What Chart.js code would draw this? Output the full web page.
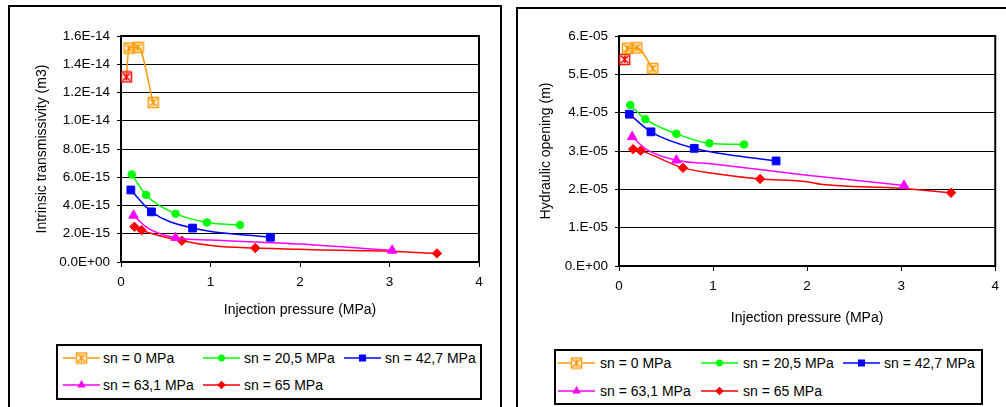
<!DOCTYPE html>
<html>
<head>
<meta charset="utf-8">
<script src="https://cdn.jsdelivr.net/npm/chart.js@4.4.0/dist/chart.umd.min.js"></script>
<style>
body { margin: 0; background: #fff; width: 1006px; height: 407px; overflow: hidden; position: relative; font-family: 'Liberation Sans', Arial, sans-serif; }
.frame { position: absolute; border: 2px solid #000; box-sizing: border-box; }
canvas.chart { position: absolute; }
.legend { position: absolute; border: 2px solid #000; box-sizing: border-box; background: #fff; }
.legend canvas { position: absolute; }
.legend span { position: absolute; font-size: 14px; line-height: 16px; white-space: nowrap; color: #000; }
</style>
</head>
<body>
<div class="frame" style="left:8px;top:5px;width:494px;height:430px"></div>
<div class="frame" style="left:516px;top:7px;width:520px;height:430px"></div>
<canvas id="transChart" class="chart" width="500" height="335" style="left:0;top:0"></canvas>
<canvas id="openChart" class="chart" width="506" height="340" style="left:500px;top:0"></canvas>
<div id="legendLeft" class="legend" style="left:56px;top:344px;width:426px;height:56px"></div>
<div id="legendRight" class="legend" style="left:554px;top:349px;width:429px;height:56px"></div>
<script>
// axis ticks
const xTickValues = [0, 1, 2, 3, 4];
const xTickLabels = ['0', '1', '2', '3', '4'];
const transTickValues = [0, 2e-15, 4e-15, 6e-15, 8e-15, 1e-14, 1.2e-14, 1.4e-14, 1.6e-14];
const transTickLabels = ['0.0E+00', '2.0E-15', '4.0E-15', '6.0E-15', '8.0E-15', '1.0E-14', '1.2E-14', '1.4E-14', '1.6E-14'];
const openTickValues = [0, 1e-5, 2e-5, 3e-5, 4e-5, 5e-5, 6e-5];
const openTickLabels = ['0.E+00', '1.E-05', '2.E-05', '3.E-05', '4.E-05', '5.E-05', '6.E-05'];

const seriesNames = ['sn = 0 MPa', 'sn = 20,5 MPa', 'sn = 42,7 MPa', 'sn = 63,1 MPa', 'sn = 65 MPa'];

// injection pressure (MPa) for each series; mark = 1 where a marker is drawn
const p0 = [0.06, 0.09, 0.19, 0.36];
const p20 = [0.12, 0.28, 0.61, 0.96, 1.33];
const p42 = [0.11, 0.34, 0.80, 1.67];
const p63 = [0.14, 0.30, 0.61, 1.00, 2.00, 3.03];
const p65 = [0.15, 0.23, 0.68, 1.05, 1.50, 2.00, 2.15, 3.00, 3.53];
const mark0 = [1, 1, 1, 1];
const mark20 = [1, 1, 1, 1, 1];
const mark42 = [1, 1, 1, 1];
const mark63 = [1, 0, 1, 0, 0, 1];
const mark65 = [1, 1, 1, 0, 1, 0, 0, 0, 1];

// intrinsic transmissivity (m3)
const trans0 = [1.31e-14, 1.515e-14, 1.52e-14, 1.13e-14];
const trans20 = [6.2e-15, 4.75e-15, 3.42e-15, 2.8e-15, 2.62e-15];
const trans42 = [5.1e-15, 3.55e-15, 2.4e-15, 1.75e-15];
const trans63 = [3.3e-15, 2.4e-15, 1.72e-15, 1.56e-15, 1.27e-15, 0.82e-15];
const trans65 = [2.5e-15, 2.25e-15, 1.5e-15, 1.13e-15, 0.99e-15, 0.9e-15, 0.86e-15, 0.76e-15, 0.61e-15];

// hydraulic opening (m)
const open0 = [5.39e-5, 5.68e-5, 5.69e-5, 5.15e-5];
const open20 = [4.2e-5, 3.83e-5, 3.45e-5, 3.2e-5, 3.17e-5];
const open42 = [3.96e-5, 3.5e-5, 3.07e-5, 2.74e-5];
const open63 = [3.37e-5, 3.03e-5, 2.76e-5, 2.66e-5, 2.37e-5, 2.1e-5];
const open65 = [3.05e-5, 3.01e-5, 2.56e-5, 2.4e-5, 2.27e-5, 2.2e-5, 2.13e-5, 2.03e-5, 1.91e-5];

Chart.defaults.font.family = "'Liberation Sans', Arial, sans-serif";
Chart.defaults.font.size = 13.5;
Chart.defaults.color = '#000';

const styles = [
    { color: '#FF9900', marker: 'box', r: 6 },
    { color: '#00FF00', marker: 'circle', r: 3.8 },
    { color: '#0000FF', marker: 'rect', r: 5.5 },
    { color: '#FF00FF', marker: 'triangle', r: 5.5 },
    { color: '#FF0000', marker: 'rectRot', r: 4.7 }
];

// crossed box marker used by the sn = 0 series
function boxMarker(color) {
    const c = document.createElement('canvas');
    c.width = 13; c.height = 13;
    const g = c.getContext('2d');
    g.strokeStyle = color;
    g.lineWidth = 1.5;
    g.strokeRect(1.5, 1.5, 10, 10);
    g.beginPath();
    g.moveTo(3, 3); g.lineTo(10, 10);
    g.moveTo(10, 3); g.lineTo(3, 10);
    g.moveTo(6.5, 3); g.lineTo(6.5, 10);
    g.stroke();
    return c;
}
const orangeBox = boxMarker('#FF9900');
const redBox = boxMarker('#FF0000');

function makeSet(i, xs, ys, marks) {
    const s = styles[i];
    let pointStyle = s.marker;
    if (s.marker === 'box') {
        pointStyle = xs.map((v, k) => k === 0 ? redBox : orangeBox);
    }
    return {
        label: seriesNames[i],
        data: xs.map((v, k) => ({ x: v, y: ys[k] })),
        showLine: true,
        borderColor: s.color,
        backgroundColor: s.color,
        borderWidth: 1.5,
        cubicInterpolationMode: 'monotone',
        pointStyle: pointStyle,
        pointRadius: marks.map(m => m ? s.r : 0),
        pointHoverRadius: marks.map(m => m ? s.r : 0),
        pointBackgroundColor: s.color,
        pointBorderColor: s.color,
        pointBorderWidth: 1
    };
}

const plotBorder = {
    id: 'plotBorder',
    beforeDatasetsDraw(chart) {
        const { ctx, chartArea: a } = chart;
        ctx.save();
        ctx.strokeStyle = '#000';
        ctx.lineWidth = 2;
        ctx.strokeRect(a.left, a.top, a.right - a.left, a.bottom - a.top);
        ctx.restore();
    }
};

function makeChart(id, datasets, yTitle, yValues, yLabels, yMax, lay) {
    new Chart(document.getElementById(id), {
        type: 'scatter',
        data: { datasets: datasets },
        plugins: [plotBorder],
        options: {
            responsive: false,
            animation: false,
            layout: { padding: lay.pad },
            plugins: { legend: { display: false }, tooltip: { enabled: false } },
            scales: {
                x: {
                    type: 'linear',
                    min: 0,
                    max: 4,
                    afterFit: s => { s.height = lay.xh; },
                    afterBuildTicks: s => { s.ticks = xTickValues.map(v => ({ value: v })); },
                    ticks: { autoSkip: false, maxRotation: 0, padding: 7, callback: (v, i) => xTickLabels[i] },
                    grid: { drawOnChartArea: false, tickLength: 5, tickColor: '#000', tickWidth: 1 },
                    border: { color: '#000', width: 2 },
                    title: { display: true, text: 'Injection pressure (MPa)', font: { size: 14 }, padding: { top: 4, bottom: 4 } }
                },
                y: {
                    type: 'linear',
                    min: 0,
                    max: yMax,
                    afterFit: s => { s.width = lay.yw; },
                    afterBuildTicks: s => { s.ticks = yValues.map(v => ({ value: v })); },
                    ticks: { autoSkip: false, padding: 7, callback: (v, i) => yLabels[i] },
                    grid: { color: '#000', lineWidth: 1, tickLength: 4, tickColor: '#000' },
                    border: { color: '#000', width: 2 },
                    title: { display: true, text: yTitle, font: { size: 14 }, padding: { top: 4, bottom: 4 } }
                }
            }
        }
    });
}

makeChart('transChart', [
    makeSet(0, p0, trans0, mark0),
    makeSet(1, p20, trans20, mark20),
    makeSet(2, p42, trans42, mark42),
    makeSet(3, p63, trans63, mark63),
    makeSet(4, p65, trans65, mark65)
], 'Intrinsic transmissivity (m3)', transTickValues, transTickLabels, 1.6e-14,
   { pad: { left: 30, right: 21, top: 36, bottom: 12 }, yw: 91, xh: 61 });

makeChart('openChart', [
    makeSet(0, p0, open0, mark0),
    makeSet(1, p20, open20, mark20),
    makeSet(2, p42, open42, mark42),
    makeSet(3, p63, open63, mark63),
    makeSet(4, p65, open65, mark65)
], 'Hydraulic opening (m)', openTickValues, openTickLabels, 6e-5,
   { pad: { left: 34, right: 8, top: 36, bottom: 9 }, yw: 85, xh: 65 });

// legend swatches: line with the series marker in the middle
function drawSwatch(c, s) {
    const g = c.getContext('2d');
    const cx = c.width / 2, cy = c.height / 2;
    g.strokeStyle = s.color;
    g.fillStyle = s.color;
    g.lineWidth = 1.5;
    g.beginPath(); g.moveTo(0, cy); g.lineTo(c.width, cy); g.stroke();
    const r = s.r * 0.9;
    g.beginPath();
    if (s.marker === 'box') {
        g.fillStyle = '#fff';
        g.fillRect(cx - 6, cy - 6, 12, 12);
        g.drawImage(orangeBox, cx - 6.5, cy - 6.5);
        return;
    } else if (s.marker === 'circle') {
        g.arc(cx, cy, r, 0, Math.PI * 2);
    } else if (s.marker === 'rect') {
        const h = r * Math.SQRT1_2;
        g.rect(cx - h, cy - h, 2 * h, 2 * h);
    } else if (s.marker === 'triangle') {
        for (let k = 0; k < 3; k++) {
            const a = k * 2 * Math.PI / 3;
            const px = cx + Math.sin(a) * r, py = cy - Math.cos(a) * r;
            k ? g.lineTo(px, py) : g.moveTo(px, py);
        }
        g.closePath();
    } else {
        g.moveTo(cx - r, cy); g.lineTo(cx, cy - r); g.lineTo(cx + r, cy); g.lineTo(cx, cy + r); g.closePath();
    }
    g.fill();
}

function makeLegend(id, boxX, boxY, iconX, textX, rowY) {
    const box = document.getElementById(id);
    const slots = [[0, 0], [1, 0], [2, 0], [0, 1], [1, 1]];
    slots.forEach((slot, i) => {
        const c = document.createElement('canvas');
        c.width = 37; c.height = 14;
        c.style.left = (iconX[slot[0]] - boxX - 2) + 'px';
        c.style.top = (rowY[slot[1]] - 7 - boxY - 2) + 'px';
        drawSwatch(c, styles[i]);
        box.appendChild(c);
        const t = document.createElement('span');
        t.textContent = seriesNames[i];
        t.style.left = (textX[slot[0]] - boxX - 2) + 'px';
        t.style.top = (rowY[slot[1]] - 8 - boxY - 2) + 'px';
        box.appendChild(t);
    });
}

makeLegend('legendLeft', 56, 344, [63, 203, 344], [103, 244, 385], [358, 385]);
makeLegend('legendRight', 554, 349, [558, 701, 843], [600, 743, 884], [363, 391]);
</script>
</body>
</html>
